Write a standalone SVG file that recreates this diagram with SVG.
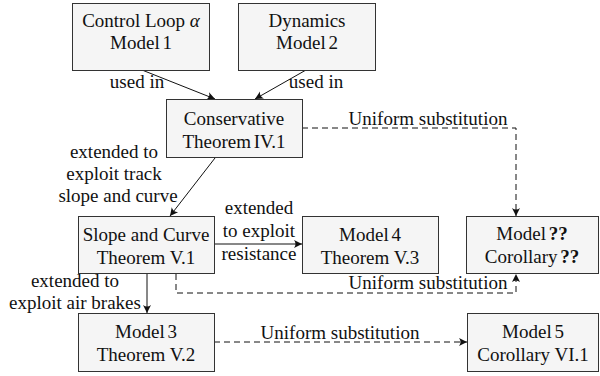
<svg xmlns="http://www.w3.org/2000/svg" width="600" height="376" viewBox="0 0 600 376" font-family="Liberation Serif, Times New Roman, serif">
<style>
text{font-size:19px;fill:#111;text-anchor:middle}
.box{fill:#f5f5f5;stroke:#333;stroke-width:1}
.c{fill:none;stroke:#111;stroke-width:1}
.d{fill:none;stroke:#111;stroke-width:1;stroke-dasharray:6 4}
.t{word-spacing:-2px}
</style>
<defs>
<marker id="ah" viewBox="-8 -5 9 10" refX="0" refY="0" markerWidth="9" markerHeight="10" markerUnits="userSpaceOnUse" orient="auto">
<path d="M0,0 L-8,-4 Q-5,0 -8,4 Z" fill="#111"/>
</marker>
</defs>
<g id="connectors">
<line class="c" x1="142" y1="70" x2="215" y2="99" marker-end="url(#ah)"/>
<line class="c" x1="306" y1="70" x2="255" y2="99" marker-end="url(#ah)"/>
<line class="c" x1="215" y1="158" x2="170" y2="216" marker-end="url(#ah)"/>
<line class="c" x1="214" y1="244" x2="302" y2="244" marker-end="url(#ah)"/>
<line class="c" x1="147" y1="274" x2="147" y2="313" marker-end="url(#ah)"/>
<polyline class="d" points="302,128 516,128 516,216" marker-end="url(#ah)"/>
<polyline class="d" points="176,274 176,293 516,293 516,274" marker-end="url(#ah)"/>
<line class="d" x1="214" y1="342" x2="467" y2="342" marker-end="url(#ah)"/>
<text x="137" y="88">used in</text>
<text x="316" y="88">used in</text>
<text x="114" y="158">extended to</text>
<text x="114" y="180">exploit track</text>
<text x="118" y="202">slope and curve</text>
<text x="259" y="214">extended</text>
<text x="259" y="237">to exploit</text>
<text x="259" y="260">resistance</text>
<text x="75" y="287">extended to</text>
<text x="75" y="309">exploit air brakes</text>
<text x="428" y="125">Uniform substitution</text>
<text x="428" y="289">Uniform substitution</text>
<text x="340" y="339">Uniform substitution</text>
</g>
<g id="n1">
<rect class="box" x="72.5" y="3.5" width="137" height="67"/>
<text x="141" y="27">Control Loop <tspan font-style="italic">α</tspan></text>
<text class="t" x="141" y="49">Model 1</text>
</g>
<g id="n2">
<rect class="box" x="238.5" y="3.5" width="137" height="67"/>
<text x="307" y="27">Dynamics</text>
<text class="t" x="307" y="49">Model 2</text>
</g>
<g id="n3">
<rect class="box" x="166.5" y="99.5" width="136" height="58"/>
<text x="234" y="125">Conservative</text>
<text class="t" x="234" y="148">Theorem IV.1</text>
</g>
<g id="n4">
<rect class="box" x="78.5" y="216.5" width="136" height="57"/>
<text x="146" y="241">Slope and Curve</text>
<text x="146" y="264">Theorem V.1</text>
</g>
<g id="n5">
<rect class="box" x="302.5" y="216.5" width="136" height="57"/>
<text class="t" x="370" y="241">Model 4</text>
<text x="370" y="264">Theorem V.3</text>
</g>
<g id="n6">
<rect class="box" x="466.5" y="216.5" width="132" height="57"/>
<text class="t" x="532" y="240">Model <tspan font-weight="bold">??</tspan></text>
<text class="t" x="532" y="263">Corollary <tspan font-weight="bold">??</tspan></text>
</g>
<g id="n7">
<rect class="box" x="78.5" y="313.5" width="136" height="58"/>
<text class="t" x="146" y="338">Model 3</text>
<text x="146" y="361">Theorem V.2</text>
</g>
<g id="n8">
<rect class="box" x="467.5" y="313.5" width="131" height="58"/>
<text class="t" x="533" y="338">Model 5</text>
<text x="533" y="361">Corollary VI.1</text>
</g>
</svg>
